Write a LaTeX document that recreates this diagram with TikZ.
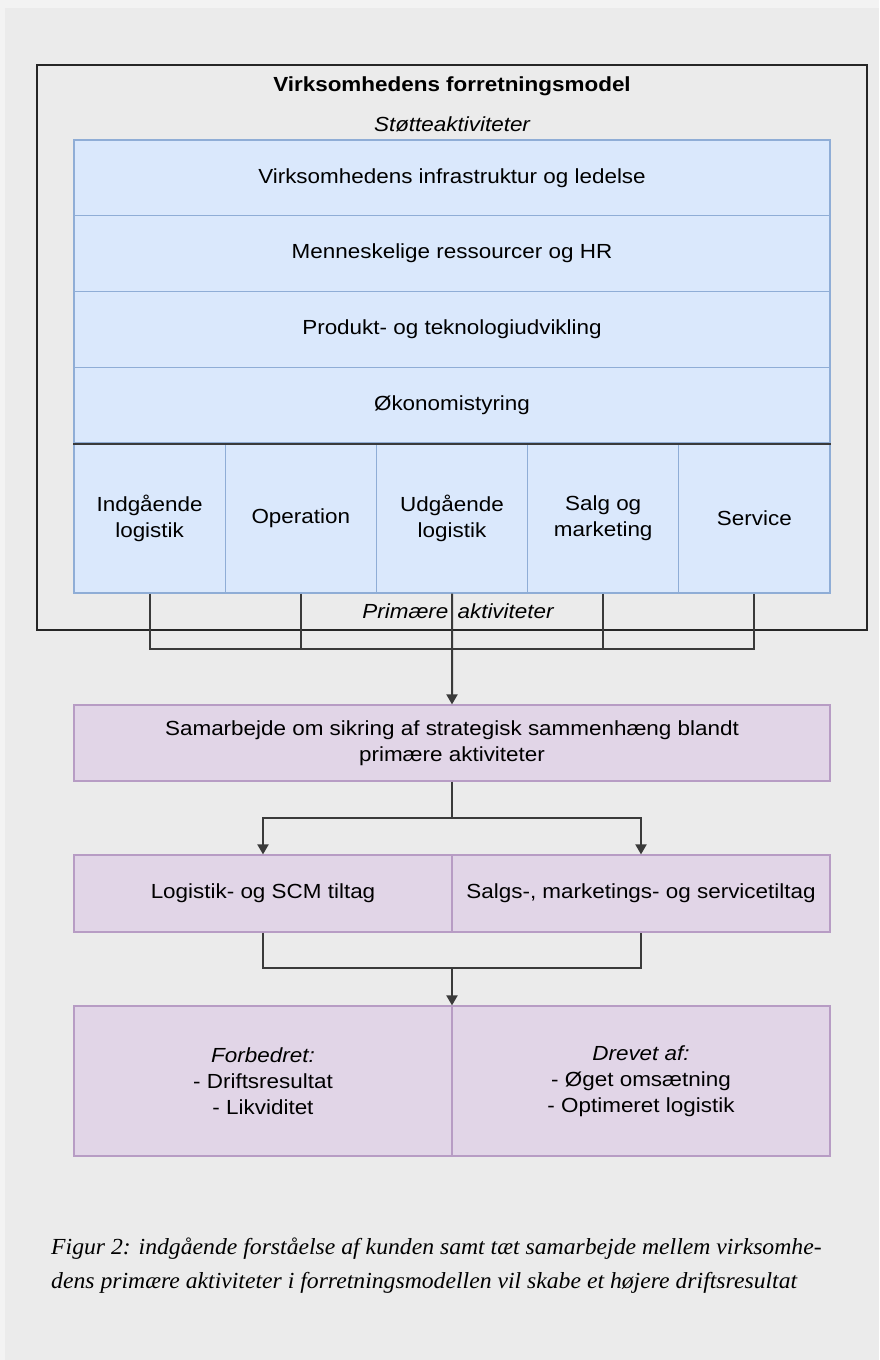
\documentclass[tikz,border=0pt]{standalone}
\usepackage{fontspec}
\setmainfont{Liberation Sans}[FakeStretch=1.1]
\newfontfamily\capfont{Liberation Serif}[FakeStretch=1.03]
\usetikzlibrary{arrows.meta,positioning}
\definecolor{bgGray}{HTML}{EBEBEB}
\definecolor{bgEdge}{HTML}{F3F3F3}
\definecolor{blueFill}{HTML}{DAE8FC}
\definecolor{blueLine}{HTML}{8FADD6}
\definecolor{purpFill}{HTML}{E1D5E7}
\definecolor{purpLine}{HTML}{B79CC4}
\definecolor{wireGray}{HTML}{3A3A3A}
\tikzset{
  txt/.style={font=\fontsize{20.4}{26}\selectfont},
  support/.style={txt,draw=blueLine,fill=blueFill,line width=1.2pt,
    minimum width=756pt,minimum height=75.75pt,inner sep=0pt},
  primary/.style={txt,draw=blueLine,fill=blueFill,line width=1.2pt,align=center,
    minimum width=151.2pt,minimum height=150pt,inner sep=0pt},
  effect/.style={txt,draw=purpLine,fill=purpFill,line width=1.2pt,align=center,
    minimum width=378pt,inner sep=0pt},
  wire/.style={draw=wireGray,line width=2pt},
  flow/.style={wire,-{Triangle[length=10pt,width=11pt]}},
}
\begin{document}
\begin{tikzpicture}[x=1pt,y=-1pt]
  % background
  \fill[bgEdge] (0,0) rectangle (879,1360);
  \fill[bgGray] (5,8) rectangle (879,1360);
  \useasboundingbox (0,0) rectangle (879,1360);
  % business model frame
  \draw[black!85,line width=2.2pt] (37,65) rectangle (867,630);
  \node[font=\fontsize{20.4}{26}\selectfont\bfseries] (title) at (452,86)
    {Virksomhedens forretningsmodel};
  \node[font=\fontsize{20.4}{26}\selectfont\itshape] (stotte) at (452,124) {Støtteaktiviteter};
  % support activities
  \foreach \i/\t in {0/Virksomhedens infrastruktur og ledelse,1/Menneskelige ressourcer og HR,
      2/Produkt- og teknologiudvikling,3/Økonomistyring}
    \node[support] (s\i) at (452,{177.9+75.75*\i}) {\t};
  % primary activities
  \foreach \i/\t in {1/{Indgående\\logistik},2/Operation,3/{Udgående\\logistik},
      4/{Salg og\\marketing},5/Service}
    \node[primary] (p\i) at ({74+151.2*(\i-0.5)},518) {\t};
  \draw[wireGray,line width=2pt] (s3.south west) -- (s3.south east);
  \node[font=\fontsize{20.4}{26}\selectfont\itshape] (prim) at (458,611)
    {Primære\hspace{0.45em}aktiviteter};
  % collecting the primary activities
  \coordinate (bus) at (452,649);
  \draw[wire] (p1.south) -- (p1.south |- bus) -- (p5.south |- bus) -- (p5.south);
  \foreach \i in {2,4}
    \draw[wire] (p\i.south) -- (p\i.south |- bus);
  \node[effect,minimum width=756pt,minimum height=76pt] (samarb) at (452,743)
    {Samarbejde om sikring af strategisk sammenhæng blandt\\primære aktiviteter};
  \draw[flow] (p3.south) -- (samarb.north);
  % initiatives
  \node[effect,minimum height=77pt] (logi) at (263,893.5) {Logistik- og SCM tiltag};
  \node[effect,minimum height=77pt] (salg) at (641,893.5) {Salgs-, marketings- og servicetiltag};
  \coordinate (split) at (452,818);
  \draw[wire] (samarb.south) -- (split);
  \draw[flow] (split) -| (logi.north);
  \draw[flow] (split) -| (salg.north);
  % results
  \node[effect,minimum height=150pt] (forb) at (263,1081)
    {\itshape Forbedret:\\- Driftsresultat\\- Likviditet};
  \node[effect,minimum height=150pt] (drev) at (641,1081)
    {\itshape Drevet af:\\- Øget omsætning\\- Optimeret logistik};
  \coordinate (merge) at (452,968);
  \draw[wire] (logi.south) |- (merge) -| (salg.south);
  \draw[flow] (merge) -- (merge |- forb.north);
  % caption
  \node[anchor=base west,align=left,inner sep=0pt,
    font=\capfont\itshape\fontsize{23}{34}\selectfont] (caption) at (51,1288)
    {Figur 2: indgående forståelse af kunden samt tæt samarbejde mellem virksomhe-\\
     dens primære aktiviteter i forretningsmodellen vil skabe et højere driftsresultat};
\end{tikzpicture}
\end{document}
